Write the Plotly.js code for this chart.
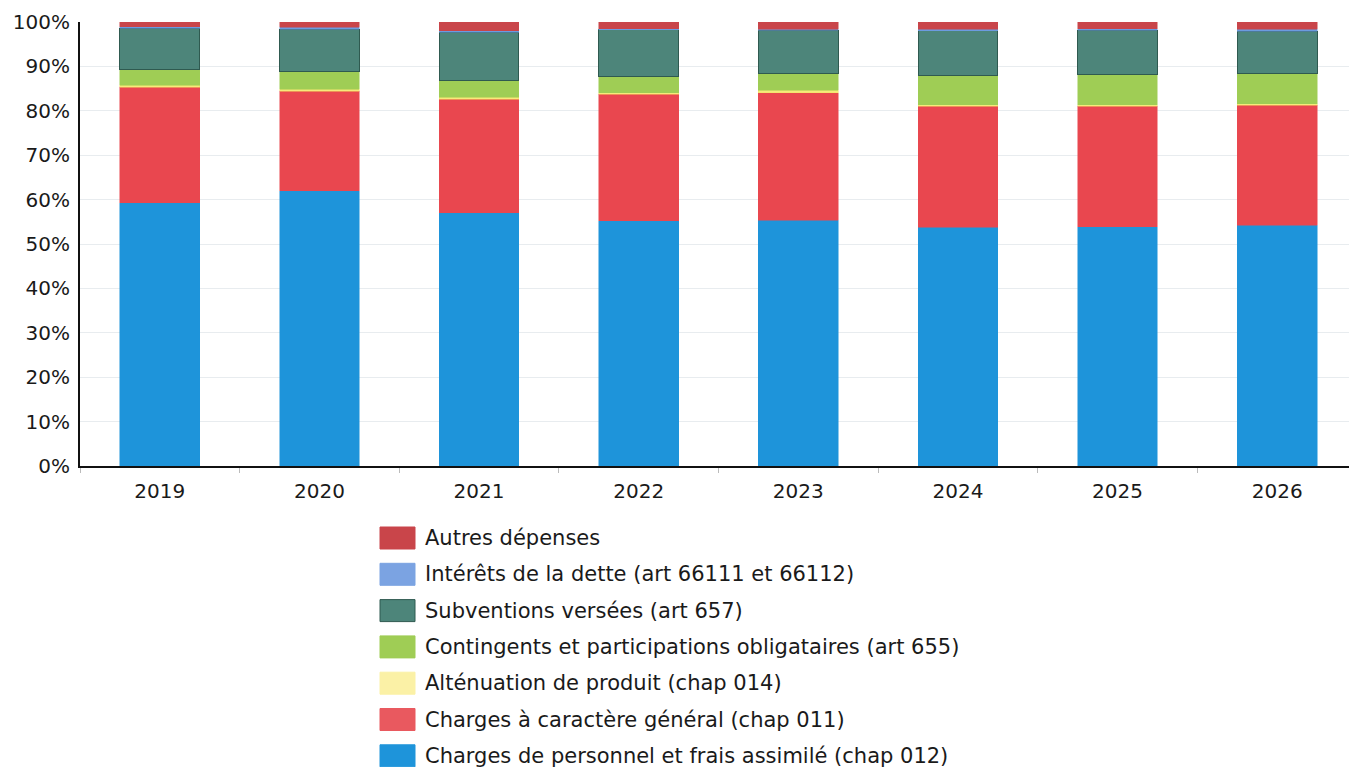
<!DOCTYPE html>
<html>
<head>
<meta charset="utf-8">
<script src="https://cdn.plot.ly/plotly-3.0.1.min.js"></script>
<style>
html,body{margin:0;padding:0;background:#fff;}
#chart{width:1349px;height:767px;}
</style>
</head>
<body>
<div id="chart"></div>
<script>
const years = ['2019','2020','2021','2022','2023','2024','2025','2026'];

const personnel   = [59.3, 62.0, 57.0, 55.2, 55.3, 53.8, 53.9, 54.2];
const caractere   = [26.0, 22.4, 25.6, 28.5, 28.8, 27.2, 27.1, 27.0];
const attenuation = [0.4, 0.4, 0.4, 0.4, 0.5, 0.4, 0.4, 0.4];
const contingents = [3.6, 4.0, 3.8, 3.6, 3.8, 6.6, 6.8, 6.8];
const subventions = [9.3, 9.6, 10.9, 10.5, 9.7, 10.0, 9.9, 9.5];
const interets    = [0.3, 0.4, 0.3, 0.3, 0.3, 0.4, 0.4, 0.5];
const autres      = [1.1, 1.2, 2.0, 1.5, 1.6, 1.6, 1.5, 1.6];

const seriesNames = [
  'Charges de personnel et frais assimilé (chap 012)',
  'Charges à caractère général (chap 011)',
  'Alténuation de produit (chap 014)',
  'Contingents et participations obligataires (art 655)',
  'Subventions versées (art 657)',
  'Intérêts de la dette (art 66111 et 66112)',
  'Autres dépenses'
];
const seriesValues = [personnel, caractere, attenuation, contingents, subventions, interets, autres];
const seriesColors = ['#1e94da', '#e9474f', '#f6ea7c', '#9fcd55', '#4d857a', '#6c9be0', '#c9454a'];
const legendColors = ['#1e94da', '#e9595f', '#fbf1a6', '#9fcd55', '#4d857a', '#7ba3e2', '#c9454a'];
const lineColors   = ['#1e94da', '#e9474f', '#f2e060', '#9fcd55', '#2f5a50', '#6c9be0', '#c9454a'];

const traces = seriesValues.map((vals, i) => ({
  type: 'bar',
  x: years,
  y: vals,
  name: seriesNames[i],
  marker: {color: seriesColors[i], line: {color: lineColors[i], width: i === 4 ? 1 : 0.5}},
  width: 0.5,
  showlegend: false,
  hovertemplate: '%{x}: %{y:.1f}%<extra>' + seriesNames[i] + '</extra>'
}));

// Plot-area geometry (pixels) used only to place the custom legend
const L = 80, T = 22, W = 1269, H = 444;
const px = x => (x - L) / W;
const py = y => (T + H - y) / H;

const shapes = [];
const annotations = [];
const legendTop = 538, legendStep = 36.3;
for (let k = 0; k < seriesNames.length; k++) {
  const i = seriesNames.length - 1 - k;
  const cy = legendTop + k * legendStep;
  shapes.push({
    type: 'rect', xref: 'paper', yref: 'paper',
    x0: px(380), x1: px(415), y0: py(cy + 11), y1: py(cy - 11),
    fillcolor: legendColors[i],
    line: {color: i === 4 ? '#2f5a50' : legendColors[i], width: 1}
  });
  annotations.push({
    xref: 'paper', yref: 'paper', x: px(423), y: py(cy),
    xanchor: 'left', yanchor: 'middle', showarrow: false,
    text: seriesNames[i],
    font: {family: 'DejaVu Sans', size: 21, color: '#1a1a1a'}
  });
}

const layout = {
  width: 1349, height: 767,
  margin: {l: L, r: 1349 - L - W, t: T, b: 767 - T - H},
  barmode: 'stack',
  paper_bgcolor: '#fff',
  plot_bgcolor: '#fff',
  showlegend: false,
  font: {family: 'DejaVu Sans', size: 20, color: '#222'},
  xaxis: {
    type: 'category',
    range: [-0.5, 7.45],
    showline: true, linecolor: '#111', linewidth: 2,
    ticks: 'outside', tickson: 'boundaries', ticklen: 5, tickcolor: '#bbb',
    showgrid: false,
    ticklabelstandoff: 6,
    tickfont: {family: 'DejaVu Sans', size: 20, color: '#1a1a1a'}
  },
  yaxis: {
    range: [0, 100],
    tickvals: [0,10,20,30,40,50,60,70,80,90,100],
    ticktext: ['0%','10%','20%','30%','40%','50%','60%','70%','80%','90%','100%'],
    showline: true, linecolor: '#111', linewidth: 2,
    showgrid: true, gridcolor: '#e8ecef', gridwidth: 1,
    zeroline: false,
    ticks: '', ticklabelstandoff: 4,
    tickfont: {family: 'DejaVu Sans', size: 20, color: '#1a1a1a'}
  },
  shapes: shapes,
  annotations: annotations
};

Plotly.newPlot('chart', traces, layout, {displayModeBar: false, staticPlot: true});
</script>
</body>
</html>
